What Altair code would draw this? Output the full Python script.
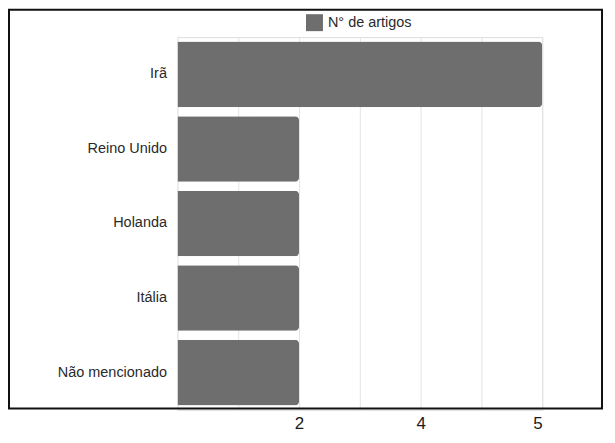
import altair as alt
import pandas as pd

categories = ["Irã", "Reino Unido", "Holanda", "Itália", "Não mencionado"]
values = [5, 2, 2, 2, 2]
series_name = "N° de artigos"
scale_domain = [0, 2, 4, 5]
grid_values = [1, 2, 3, 4, 4.5, 5]
shown_labels = [2, 4, 5]

df = pd.DataFrame({"pais": categories, "n": values, "serie": [series_name] * len(categories)})

label_expr = "indexof([" + ",".join(str(v) for v in shown_labels) + "], datum.value) >= 0 ? '' + datum.value : ''"

bars = alt.Chart(df).mark_bar(cornerRadiusEnd=4).encode(
    y=alt.Y("pais:N", sort=categories, title=None,
            scale=alt.Scale(paddingInner=0.12, paddingOuter=0.06),
            axis=alt.Axis(labelFontSize=14.5, labelColor="#2a2a2a", labelPadding=11,
                          ticks=False, domain=False, grid=False, labelFont="Liberation Sans")),
    x=alt.X("n:Q", title=None,
            scale=alt.Scale(domain=scale_domain, range=[0, 122, 244, 366], nice=False),
            axis=alt.Axis(values=grid_values, labelExpr=label_expr, labelFontSize=17,
                          labelColor="#1a1a1a", labelPadding=6, ticks=False, domain=False,
                          grid=True, gridColor="#e4e4e4", labelOverlap=False,
                          labelFont="Liberation Sans")),
    color=alt.Color("serie:N", scale=alt.Scale(range=["#6e6e6e"]), title=None,
                    legend=alt.Legend(orient="none", legendX=129, legendY=-23,
                                      symbolType="square", symbolSize=289, symbolStrokeWidth=0,
                                      labelFontSize=14.5, labelColor="#2a2a2a", labelOffset=5,
                                      padding=0, labelFont="Liberation Sans")),
)

frame = alt.Chart(pd.DataFrame({"k": [0]})).mark_rect(filled=False, stroke="#111111", strokeWidth=2).encode(
    x=alt.value(-169), x2=alt.value(426), y=alt.value(-27.5), y2=alt.value(372.5)
)

chart = alt.layer(bars, frame).properties(
    width=366, height=374,
    autosize=alt.AutoSizeParams(type="none"),
    padding={"left": 170, "top": 28.5, "right": 65, "bottom": 30},
).configure_view(stroke=None).configure(background="white")

chart.save("out.html", embed_options={"renderer": "svg", "actions": False})
